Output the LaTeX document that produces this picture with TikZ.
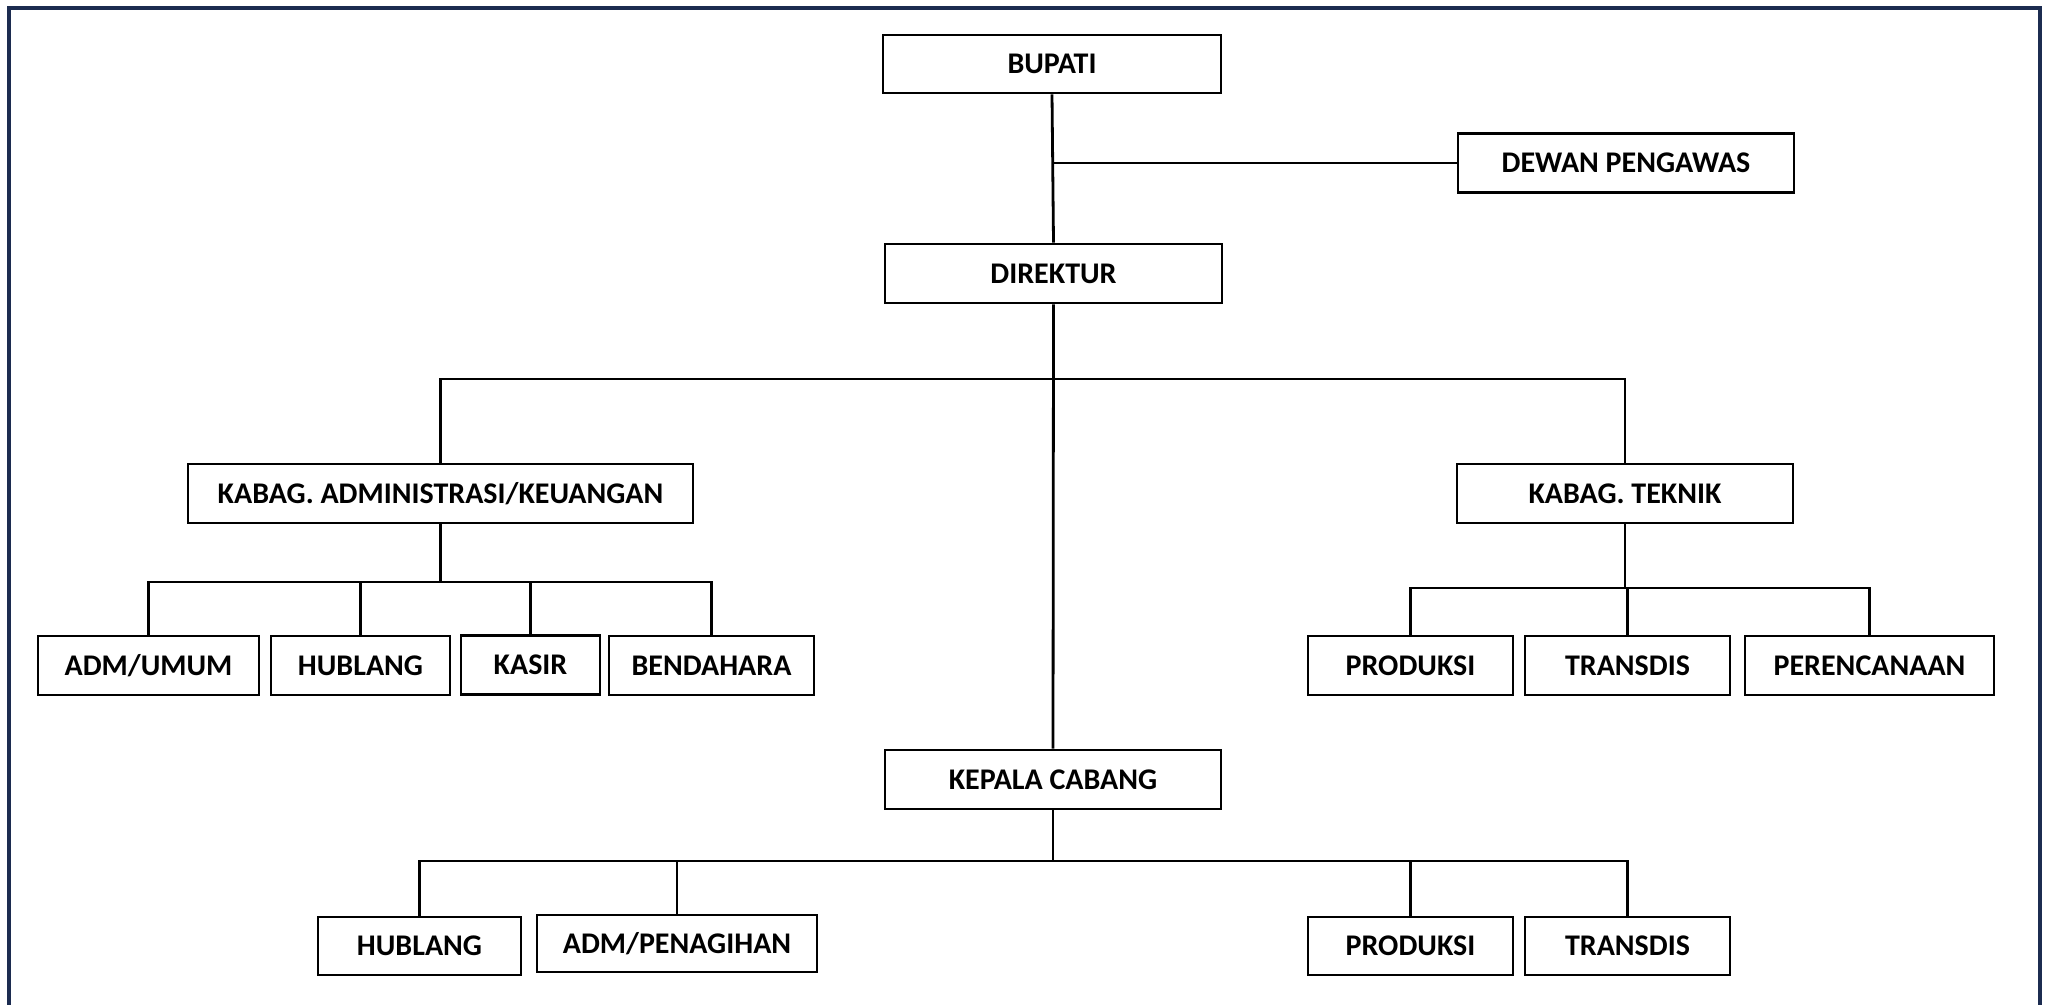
\documentclass[tikz,border=0pt]{standalone}
\usepackage{fontspec}
\setmainfont{Carlito}
\definecolor{framenavy}{RGB}{28,44,80}
\begin{document}
\begin{tikzpicture}[x=0.5pt,y=-0.5pt,
  box/.style={draw=black, line width=1.4pt, fill=white, inner sep=0pt, font=\fontsize{15}{18}\selectfont\bfseries, minimum height=29.5pt},
  conn/.style={draw=black, line width=1.4pt}]
\useasboundingbox (0,0) rectangle (2049,1005);
\fill[white] (0,0) rectangle (2049,1005);
\draw[framenavy, line width=1.6pt] (9,1015) -- (9,8) -- (2040,8) -- (2040,1015);

\node[box, minimum width=169pt, minimum height=29pt] (bupati) at (1052,64) {BUPATI};
\node[box, minimum width=168pt] (dewan) at (1626,163) {DEWAN PENGAWAS};
\node[box, minimum width=168.5pt] (direktur) at (1053.5,273.5) {DIREKTUR};
\node[box, minimum width=252.5pt] (kabagadm) at (440.5,493.5) {KABAG. ADMINISTRASI/KEUANGAN};
\node[box, minimum width=168pt] (kabagtek) at (1625,493.5) {KABAG. TEKNIK};
\node[box, minimum width=110.5pt] (admumum) at (148.5,665.5) {ADM/UMUM};
\node[box, minimum width=89.5pt] (hublang) at (360.5,665.5) {HUBLANG};
\node[box, minimum width=69.5pt] (kasir) at (530.5,665) {KASIR};
\node[box, minimum width=102.5pt] (bendahara) at (711.5,665.5) {BENDAHARA};
\node[box, minimum width=102.5pt] (produksi) at (1410.5,665.5) {PRODUKSI};
\node[box, minimum width=102.5pt] (transdis) at (1627.5,665.5) {TRANSDIS};
\node[box, minimum width=124.5pt] (perencanaan) at (1869.5,665.5) {PERENCANAAN};
\node[box, minimum width=168pt] (kepala) at (1053,779.5) {KEPALA CABANG};
\node[box, minimum width=101.5pt, minimum height=29pt] (hublangb) at (419.5,946) {HUBLANG};
\node[box, minimum width=140pt, minimum height=28.5pt] (admpen) at (677,943.5) {ADM/PENAGIHAN};
\node[box, minimum width=102.5pt, minimum height=29pt] (produksib) at (1410.5,946) {PRODUKSI};
\node[box, minimum width=102.5pt, minimum height=29pt] (transdisb) at (1627.5,946) {TRANSDIS};

\coordinate (jdewan) at (1053,163);
\coordinate (bmain) at (1053,379);
\coordinate (badm) at (440.5,582);
\coordinate (btek) at (1625,588);
\coordinate (bcab) at (1053,861);

\draw[conn] (bupati.south) -- (direktur.north);
\draw[conn] (jdewan) -- (dewan.west);
\draw[conn] (direktur.south) -- (kepala.north);
\draw[conn] (kabagadm.north) |- (bmain) -| (kabagtek.north);

\draw[conn] (kabagadm.south) -- (badm);
\draw[conn] (admumum.north) |- (badm) -| (bendahara.north);
\draw[conn] (hublang.north) -- (hublang.north |- badm);
\draw[conn] (kasir.north) -- (kasir.north |- badm);

\draw[conn] (kabagtek.south) -- (btek);
\draw[conn] (produksi.north) |- (btek) -| (perencanaan.north);
\draw[conn] (transdis.north) -- (transdis.north |- btek);

\draw[conn] (kepala.south) -- (bcab);
\draw[conn] (hublangb.north) |- (bcab) -| (transdisb.north);
\draw[conn] (admpen.north) -- (admpen.north |- bcab);
\draw[conn] (produksib.north) -- (produksib.north |- bcab);
\end{tikzpicture}
\end{document}
